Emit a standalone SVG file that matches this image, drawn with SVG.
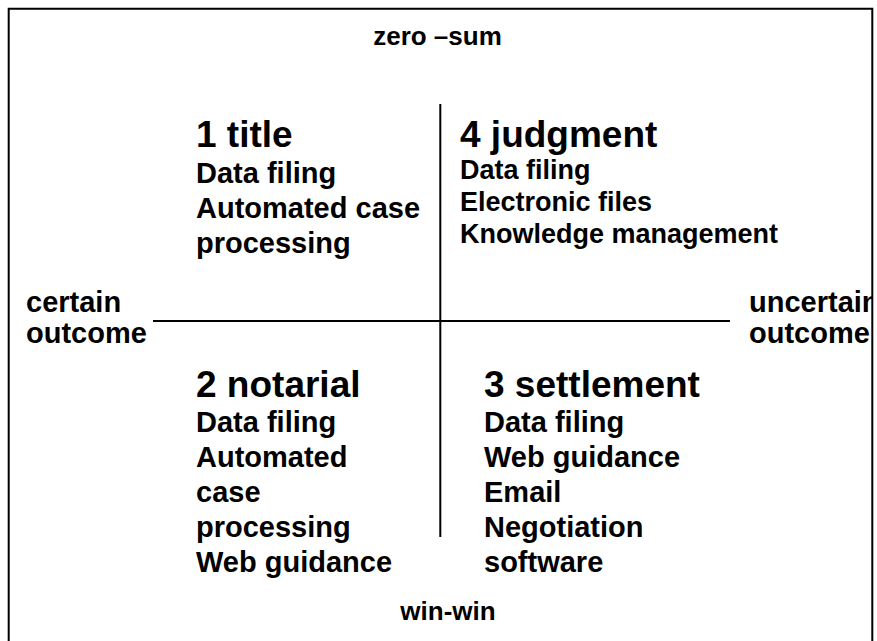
<svg xmlns="http://www.w3.org/2000/svg" width="877" height="641" viewBox="0 0 877 641">
<style>
text{font-family:"Liberation Sans",Arial,sans-serif;font-weight:bold;fill:#000}
.h{font-size:37px}
.b{font-size:29px}
.s{font-size:27px}
.lbl{font-size:29px}
.ax{font-size:26px}
.ln{stroke:#000;stroke-width:2;fill:none}
</style>
<defs>
<clipPath id="frame"><rect x="0" y="0" width="873" height="641"/></clipPath>
</defs>
<rect x="0" y="0" width="877" height="641" fill="#fff"/>
<g id="connectors">
<line class="ln" x1="440.3" y1="104" x2="440.3" y2="537"/>
<line class="ln" x1="153" y1="321" x2="730" y2="321"/>
</g>
<g id="q1">
<text class="h" x="196" y="147">1 title</text>
<text class="b" x="196" y="183">Data filing</text>
<text class="b" x="196" y="218">Automated case</text>
<text class="b" x="196" y="253">processing</text>
</g>
<g id="q4">
<text class="h" x="460" y="147">4 judgment</text>
<text class="s" x="460" y="179">Data filing</text>
<text class="s" x="460" y="211">Electronic files</text>
<text class="s" x="460" y="243">Knowledge management</text>
</g>
<g id="q2">
<text class="h" x="196" y="397">2 notarial</text>
<text class="b" x="196" y="432">Data filing</text>
<text class="b" x="196" y="467">Automated</text>
<text class="b" x="196" y="502">case</text>
<text class="b" x="196" y="537">processing</text>
<text class="b" x="196" y="572">Web guidance</text>
</g>
<g id="q3">
<text class="h" x="484" y="397">3 settlement</text>
<text class="b" x="484" y="432">Data filing</text>
<text class="b" x="484" y="467">Web guidance</text>
<text class="b" x="484" y="502">Email</text>
<text class="b" x="484" y="537">Negotiation</text>
<text class="b" x="484" y="572">software</text>
</g>
<g id="top-label"><text class="ax" x="437.5" y="45" text-anchor="middle">zero –sum</text></g>
<g id="bottom-label"><text class="ax" x="448" y="620" text-anchor="middle">win-win</text></g>
<g id="left-label">
<text class="lbl" x="26" y="312">certain</text>
<text class="lbl" x="26" y="343">outcome</text>
</g>
<g id="right-label" clip-path="url(#frame)">
<text class="lbl" x="749" y="312">uncertain</text>
<text class="lbl" x="749" y="343">outcome</text>
</g>
<path id="frame-border" class="ln" d="M8.7 645 V8.7 H872.3 V645"/>
</svg>
